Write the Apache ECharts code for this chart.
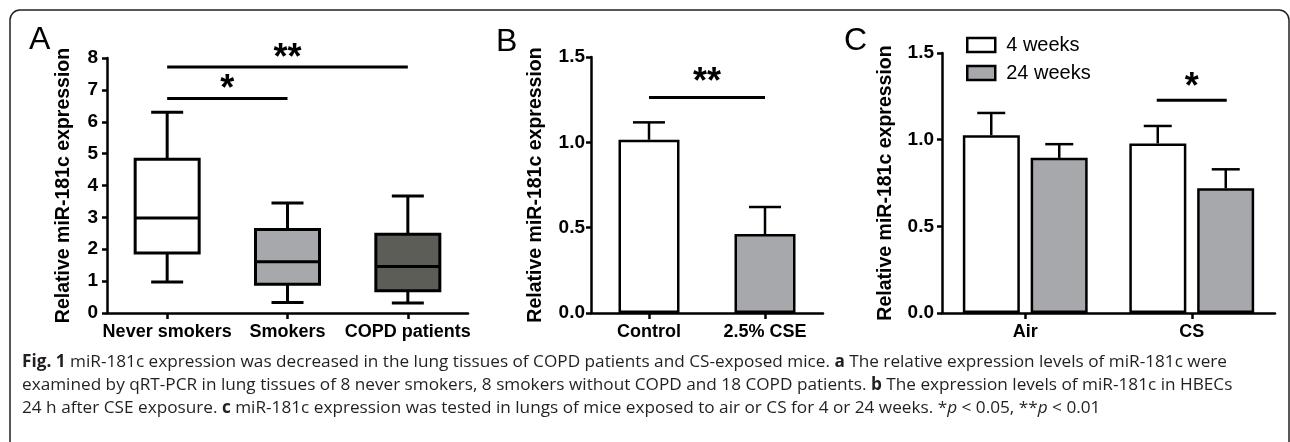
<!DOCTYPE html>
<html>
<head>
<meta charset="utf-8">
<script src="https://cdn.jsdelivr.net/npm/echarts@6/dist/echarts.min.js"></script>
<style>
html,body{margin:0;padding:0;background:#fff;}
#chart{width:1290px;height:442px;}
</style>
</head>
<body>
<div id="chart"></div>
<script>
// ---------- Panel A data (box plots) ----------
const aCategories = ['Never smokers', 'Smokers', 'COPD patients'];
// [min, Q1, median, Q3, max]
const aNever = [0.97, 1.88, 2.98, 4.82, 6.30];
const aSmokers = [0.33, 0.90, 1.61, 2.62, 3.45];
const aCopd = [0.31, 0.70, 1.46, 2.47, 3.67];
const aYTicks = [0, 1, 2, 3, 4, 5, 6, 7, 8];
// [fromCategory, toCategory, y, label]
const aSig = [[0, 2, 7.72, '**'], [0, 1, 6.73, '*']];

// ---------- Panel B data ----------
const bCategories = ['Control', '2.5% CSE'];
const bMeans = [1.015, 0.463];
const bErr = [0.102, 0.158];
const bSig = [[0, 1, 1.263, '**']];

// ---------- Panel C data ----------
const cCategories = ['Air', 'CS'];
const cSeriesNames = ['4 weeks', '24 weeks'];
const c4Weeks = [1.026, 0.978];
const c4WeeksErr = [0.128, 0.101];
const c24Weeks = [0.895, 0.719];
const c24WeeksErr = [0.079, 0.110];
// [category, y, label] : line between the two bars of the category
const cSig = [[1, 1.227, '*']];

const captionLines = [
  '{b|Fig. 1} miR-181c expression was decreased in the lung tissues of COPD patients and CS-exposed mice. {b|a} The relative expression levels of miR-181c were',
  'examined by qRT-PCR in lung tissues of 8 never smokers, 8 smokers without COPD and 18 COPD patients. {b|b} The expression levels of miR-181c in HBECs',
  '24 h after CSE exposure. {b|c} miR-181c expression was tested in lungs of mice exposed to air or CS for 4 or 24 weeks. *{i|p} < 0.05, **{i|p} < 0.01'
];

// ---------- styling ----------
const FONT = '"Liberation Sans", Arial, Helvetica, sans-serif';
const CAPFONT = '"Open Sans", "Noto Sans", sans-serif';
const CAPSIZE = 17.2;
const BLACK = '#000';
const WHITE = '#ffffff';
const GREY = '#a7a8ab';
const DARK = '#5c5d57';
const aFill = [WHITE, GREY, DARK];
const bFill = [WHITE, GREY];

const chart = echarts.init(document.getElementById('chart'), null, {renderer: 'canvas'});

function xAxisCfg(idx, data) {
  return {
    type: 'category', gridIndex: idx, data: data,
    axisLine: {show: true, lineStyle: {color: BLACK, width: 2.5}},
    axisTick: {show: true, alignWithLabel: true, length: 6, lineStyle: {color: BLACK, width: 2.5}},
    axisLabel: {color: BLACK, fontFamily: FONT, fontWeight: 'bold', fontSize: 18, margin: 10, interval: 0},
    splitLine: {show: false}
  };
}
function yAxisCfg(idx, max, interval, digits, gap, margin) {
  return {
    type: 'value', gridIndex: idx, min: 0, max: max, interval: interval,
    name: 'Relative miR-181c expression', nameLocation: 'middle', nameGap: gap,
    nameTextStyle: {color: BLACK, fontFamily: FONT, fontWeight: 'bold', fontSize: 19.5},
    axisLine: {show: true, lineStyle: {color: BLACK, width: 2.5}},
    axisTick: {show: true, length: 5, lineStyle: {color: BLACK, width: 2.5}},
    axisLabel: {color: BLACK, fontFamily: FONT, fontWeight: 'bold', fontSize: 19, margin: margin,
      formatter: v => v.toFixed(digits)},
    splitLine: {show: false}
  };
}

let sigLabels = {};
sigLabels['sigA'] = aSig.map(d => d[3]);
sigLabels['sigB'] = bSig.map(d => d[3]);

function sigRender(starOffset, fontSize, lineW) {
  return function (params, api) {
    const p1 = api.coord([api.value(0), api.value(2)]);
    const p2 = api.coord([api.value(1), api.value(2)]);
    const label = sigLabels[params.seriesName][params.dataIndex];
    return {
      type: 'group',
      children: [
        {type: 'line', shape: {x1: p1[0], y1: p1[1], x2: p2[0], y2: p2[1]},
          style: {stroke: BLACK, lineWidth: lineW}},
        {type: 'text', x: (p1[0] + p2[0]) / 2, y: p1[1] - starOffset,
          style: {text: label, fill: BLACK, font: 'bold ' + fontSize + 'px ' + FONT,
            align: 'center', verticalAlign: 'middle'}}
      ]
    };
  };
}

function errRender(offset, capHalf) {
  return function (params, api) {
    const base = api.coord([api.value(0), api.value(1)]);
    const top = api.coord([api.value(0), api.value(1) + api.value(2)]);
    const x = base[0] + offset;
    return {
      type: 'group',
      children: [
        {type: 'line', shape: {x1: x, y1: base[1], x2: x, y2: top[1]}, style: {stroke: BLACK, lineWidth: 2.5}},
        {type: 'line', shape: {x1: x - capHalf, y1: top[1], x2: x + capHalf, y2: top[1]}, style: {stroke: BLACK, lineWidth: 2.5}}
      ]
    };
  };
}

const aBoxes = [aNever, aSmokers, aCopd].map((d, i) => [i].concat(d));

const option = {
  animation: false,
  backgroundColor: '#fff',
  grid: [
    {left: 107, top: 58, width: 361, height: 255},
    {left: 591, top: 57, width: 232, height: 256},
    {left: 942, top: 53, width: 333, height: 260}
  ],
  xAxis: [xAxisCfg(0, aCategories), xAxisCfg(1, bCategories), xAxisCfg(2, cCategories)],
  yAxis: [
    yAxisCfg(0, 8, 1, 0, 33, 9),
    yAxisCfg(1, 1.5, 0.5, 1, 45, 6),
    yAxisCfg(2, 1.5, 0.5, 1, 46, 8)
  ],
  legend: {
    show: true, orient: 'vertical', left: 961, top: 30,
    data: cSeriesNames, icon: 'rect', itemWidth: 28, itemHeight: 14, itemGap: 8,
    textStyle: {color: BLACK, fontFamily: FONT, fontSize: 20, padding: [0, 0, 0, 6]},
    itemStyle: {borderColor: BLACK, borderWidth: 2.5}
  },
  series: [
    {
      name: 'boxA', type: 'custom', xAxisIndex: 0, yAxisIndex: 0,
      data: aBoxes,
      encode: {x: 0, y: [1, 2, 3, 4, 5]},
      renderItem: function (params, api) {
        const i = api.value(0);
        const x = api.coord([i, 0])[0];
        const yMin = api.coord([i, api.value(1)])[1];
        const yQ1 = api.coord([i, api.value(2)])[1];
        const yMed = api.coord([i, api.value(3)])[1];
        const yQ3 = api.coord([i, api.value(4)])[1];
        const yMax = api.coord([i, api.value(5)])[1];
        const hw = 32, cw = 16;
        const st = {stroke: BLACK, lineWidth: 3};
        return {
          type: 'group',
          children: [
            {type: 'line', shape: {x1: x, y1: yQ1, x2: x, y2: yMin}, style: st},
            {type: 'line', shape: {x1: x, y1: yQ3, x2: x, y2: yMax}, style: st},
            {type: 'line', shape: {x1: x - cw, y1: yMin, x2: x + cw, y2: yMin}, style: st},
            {type: 'line', shape: {x1: x - cw, y1: yMax, x2: x + cw, y2: yMax}, style: st},
            {type: 'rect', shape: {x: x - hw, y: yQ3, width: 2 * hw, height: yQ1 - yQ3},
              style: {fill: aFill[params.dataIndex], stroke: BLACK, lineWidth: 3}},
            {type: 'line', shape: {x1: x - hw, y1: yMed, x2: x + hw, y2: yMed}, style: st}
          ]
        };
      }
    },
    {
      name: 'sigA', type: 'custom', xAxisIndex: 0, yAxisIndex: 0,
      data: aSig.map(d => [d[0], d[1], d[2]]),
      encode: {x: [0, 1], y: 2},
      renderItem: sigRender(8, 36, 3)
    },
    {
      name: 'barB', type: 'bar', xAxisIndex: 1, yAxisIndex: 1, barWidth: 61,
      data: bMeans.map((v, i) => ({value: v, itemStyle: {color: bFill[i]}})),
      itemStyle: {borderColor: BLACK, borderWidth: 2.5}, z: 3
    },
    {
      name: 'errB', type: 'custom', xAxisIndex: 1, yAxisIndex: 1,
      data: bMeans.map((v, i) => [i, v, bErr[i]]),
      encode: {x: 0, y: 1},
      renderItem: errRender(0, 16), z: 2
    },
    {
      name: 'sigB', type: 'custom', xAxisIndex: 1, yAxisIndex: 1,
      data: bSig.map(d => [d[0], d[1], d[2]]),
      encode: {x: [0, 1], y: 2},
      renderItem: sigRender(14, 36, 3)
    },
    {
      name: cSeriesNames[0], type: 'bar', xAxisIndex: 2, yAxisIndex: 2, barWidth: 57, barGap: '19%',
      data: c4Weeks,
      itemStyle: {color: WHITE, borderColor: BLACK, borderWidth: 2.5}, z: 3
    },
    {
      name: cSeriesNames[1], type: 'bar', xAxisIndex: 2, yAxisIndex: 2, barWidth: 57, barGap: '19%',
      data: c24Weeks,
      itemStyle: {color: GREY, borderColor: BLACK, borderWidth: 2.5}, z: 3
    },
    {
      name: 'errC4', type: 'custom', xAxisIndex: 2, yAxisIndex: 2,
      data: c4Weeks.map((v, i) => [i, v, c4WeeksErr[i]]),
      encode: {x: 0, y: 1},
      renderItem: errRender(-34, 14), z: 2
    },
    {
      name: 'errC24', type: 'custom', xAxisIndex: 2, yAxisIndex: 2,
      data: c24Weeks.map((v, i) => [i, v, c24WeeksErr[i]]),
      encode: {x: 0, y: 1},
      renderItem: errRender(34, 14), z: 2
    },
    {
      name: 'sigC', type: 'custom', xAxisIndex: 2, yAxisIndex: 2,
      data: cSig.map(d => [d[0], d[1]]),
      encode: {x: 0, y: 1},
      renderItem: function (params, api) {
        const p = api.coord([api.value(0), api.value(1)]);
        const label = cSig[params.dataIndex][2];
        return {
          type: 'group',
          children: [
            {type: 'line', shape: {x1: p[0] - 35, y1: p[1], x2: p[0] + 35, y2: p[1]}, style: {stroke: BLACK, lineWidth: 3}},
            {type: 'text', x: p[0], y: p[1] - 12,
              style: {text: label, fill: BLACK, font: 'bold 36px ' + FONT, align: 'center', verticalAlign: 'middle'}}
          ]
        };
      }
    }
  ],
  graphic: [
    {type: 'rect', shape: {x: 10, y: 10, width: 1279, height: 470, r: 10}, silent: true,
      style: {fill: 'none', stroke: '#222', lineWidth: 1.5}},
    {type: 'text', left: 29, top: 24, style: {text: 'A', font: '32px ' + FONT, fill: BLACK}},
    {type: 'text', left: 496, top: 26, style: {text: 'B', font: '32px ' + FONT, fill: BLACK}},
    {type: 'text', left: 844, top: 25, style: {text: 'C', font: '32px ' + FONT, fill: BLACK}}
  ].concat(captionLines.map((t, i) => ({
    type: 'text', left: 22, top: 354 + i * 23,
    style: {
      text: t, fill: '#231f20', fontFamily: CAPFONT, fontSize: CAPSIZE,
      rich: {
        b: {fontWeight: 'bold', fontFamily: CAPFONT, fontSize: CAPSIZE, fill: '#231f20'},
        i: {fontStyle: 'italic', fontFamily: CAPFONT, fontSize: CAPSIZE, fill: '#231f20'}
      }
    }
  })))
};
chart.setOption(option);
</script>
</body>
</html>
